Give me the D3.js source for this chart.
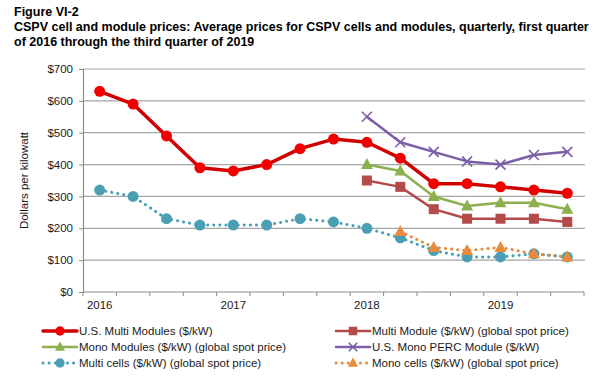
<!DOCTYPE html>
<html>
<head>
<meta charset="utf-8">
<script src="https://cdn.jsdelivr.net/npm/d3@7"></script>
<style>
  body { margin: 0; background: #fff; }
  svg { font-family: "Liberation Sans", Arial, sans-serif; }
</style>
</head>
<body>
<svg id="chart" width="600" height="377"></svg>
<script>
// quarters Q1 2016 .. Q3 2019
const quarters = ["2016Q1","2016Q2","2016Q3","2016Q4","2017Q1","2017Q2","2017Q3","2017Q4",
                  "2018Q1","2018Q2","2018Q3","2018Q4","2019Q1","2019Q2","2019Q3"];
const yearLabels = {"2016Q1": "2016", "2017Q1": "2017", "2018Q1": "2018", "2019Q1": "2019"};
const yTicks = [0, 100, 200, 300, 400, 500, 600, 700];

const usMulti   = [630, 590, 490, 390, 380, 400, 450, 480, 470, 420, 340, 340, 330, 320, 310];
const multiMod  = [null, null, null, null, null, null, null, null, 350, 330, 260, 230, 230, 230, 220];
const monoMod   = [null, null, null, null, null, null, null, null, 400, 380, 300, 270, 280, 280, 260];
const usPerc    = [null, null, null, null, null, null, null, null, 550, 470, 440, 410, 400, 430, 440];
const multiCell = [320, 300, 230, 210, 210, 210, 230, 220, 200, 170, 130, 110, 110, 120, 110];
const monoCell  = [null, null, null, null, null, null, null, null, null, 190, 140, 130, 140, 120, 110];

const series = [
  {name: "U.S. Multi Modules ($/kW)", values: usMulti, color: "#d00000", mcolor: "#f20000", width: 3.5, dash: null, marker: "circle"},
  {name: "Multi Module ($/kW) (global spot price)", values: multiMod, color: "#b54a4a", mcolor: "#b54a4a", width: 2.5, dash: null, marker: "square"},
  {name: "Mono Modules ($/kW) (global spot price)", values: monoMod, color: "#8db04e", mcolor: "#8db04e", width: 2.5, dash: null, marker: "triangle"},
  {name: "U.S. Mono PERC Module ($/kW)", values: usPerc, color: "#7b5ea7", mcolor: "#7b5ea7", width: 2.5, dash: null, marker: "x"},
  {name: "Multi cells ($/kW) (global spot price)", values: multiCell, color: "#4a9fb5", mcolor: "#4a9fb5", width: 3, dash: "0.1,6", marker: "circle"},
  {name: "Mono cells ($/kW) (global spot price)", values: monoCell, color: "#e98a3c", mcolor: "#e98a3c", width: 3, dash: "0.1,6", marker: "triangle"}
];

const svg = d3.select("#chart");
const plotLeft = 83, plotRight = 584, plotTop = 69, plotBottom = 292;

// title
const title = ["Figure VI-2",
  "CSPV cell and module prices: Average prices for CSPV cells and modules, quarterly, first quarter",
  "of 2016 through the third quarter of 2019"];
svg.selectAll("text.title").data(title).enter().append("text")
  .attr("class", "title")
  .attr("x", 14).attr("y", (d, i) => 16 + i * 15)
  .attr("font-size", 12.5).attr("font-weight", "bold").attr("fill", "#000")
  .text(d => d);

const x = d3.scaleBand().domain(quarters).range([plotLeft, plotRight]);
const y = d3.scaleLinear().domain([0, 700]).range([plotBottom, plotTop]);

// gridlines
svg.append("g").selectAll("line").data(yTicks.filter(d => d > 0)).enter().append("line")
  .attr("x1", plotLeft).attr("x2", plotRight + 1)
  .attr("y1", d => y(d)).attr("y2", d => y(d))
  .attr("stroke", "#a6a6a6").attr("stroke-width", 1.2);

// y axis
const yAxis = svg.append("g").attr("transform", `translate(${plotLeft},0)`)
  .call(d3.axisLeft(y).tickValues(yTicks).tickSize(4).tickPadding(6).tickFormat(d => "$" + d));
yAxis.select(".domain").attr("stroke", "#8c8c8c").attr("stroke-width", 1.2);
yAxis.selectAll(".tick line").attr("stroke", "#8c8c8c");
yAxis.selectAll("text").attr("font-size", 11.5).attr("fill", "#1a1a1a").attr("font-family", "Liberation Sans, Arial, sans-serif");

// x axis: ticks at band boundaries
const xg = svg.append("g");
xg.append("line").attr("x1", plotLeft).attr("x2", plotRight).attr("y1", plotBottom).attr("y2", plotBottom)
  .attr("stroke", "#8c8c8c").attr("stroke-width", 1.2);
xg.selectAll("line.tk").data(quarters.concat(["end"])).enter().append("line")
  .attr("class", "tk")
  .attr("x1", (d, i) => plotLeft + i * x.bandwidth()).attr("x2", (d, i) => plotLeft + i * x.bandwidth())
  .attr("y1", plotBottom).attr("y2", plotBottom + 4)
  .attr("stroke", "#8c8c8c");
xg.selectAll("text").data(Object.keys(yearLabels)).enter().append("text")
  .attr("x", d => x(d) + x.bandwidth() / 2).attr("y", plotBottom + 17)
  .attr("text-anchor", "middle").attr("font-size", 11.5).attr("fill", "#1a1a1a")
  .text(d => yearLabels[d]);

// y label
svg.append("text")
  .attr("transform", `translate(28,${(plotTop + plotBottom) / 2}) rotate(-90)`)
  .attr("text-anchor", "middle").attr("font-size", 11.5).attr("fill", "#1a1a1a")
  .text("Dollars per kilowatt");

function drawMarker(g, type, cx, cy, color, scale) {
  const s = scale || 1;
  if (type === "circle") {
    g.append("circle").attr("cx", cx).attr("cy", cy).attr("r", 5.5 * s).attr("fill", color);
  } else if (type === "square") {
    g.append("rect").attr("x", cx - 5 * s).attr("y", cy - 5 * s).attr("width", 10 * s).attr("height", 10 * s).attr("fill", color);
  } else if (type === "triangle") {
    g.append("path").attr("d", `M${cx},${cy - 6.5 * s}L${cx + 6 * s},${cy + 4.5 * s}L${cx - 6 * s},${cy + 4.5 * s}Z`).attr("fill", color);
  } else if (type === "x") {
    g.append("path").attr("d", `M${cx - 5 * s},${cy - 5 * s}L${cx + 5 * s},${cy + 5 * s}M${cx + 5 * s},${cy - 5 * s}L${cx - 5 * s},${cy + 5 * s}`)
      .attr("stroke", color).attr("stroke-width", 1.6).attr("fill", "none");
  }
}

const line = d3.line()
  .defined(d => d.v != null)
  .x(d => x(d.q) + x.bandwidth() / 2)
  .y(d => y(d.v));

// draw order: cells first, then modules
const order = [4, 5, 1, 2, 3, 0];
order.forEach(si => {
  const s = series[si];
  const pts = quarters.map((q, i) => ({q: q, v: s.values[i]}));
  const g = svg.append("g");
  g.append("path").datum(pts)
    .attr("d", line).attr("fill", "none")
    .attr("stroke", s.color).attr("stroke-width", s.width)
    .attr("stroke-linecap", "round").attr("stroke-linejoin", "round")
    .attr("stroke-dasharray", s.dash);
  pts.filter(d => d.v != null).forEach(d => {
    drawMarker(g, s.marker, x(d.q) + x.bandwidth() / 2, y(d.v), s.mcolor);
  });
});

// legend
const legendPos = [[43, 331], [336, 331], [43, 347], [336, 347], [43, 363], [336, 363]];
series.forEach((s, i) => {
  const [lx, ly] = legendPos[i];
  const g = svg.append("g");
  g.append("line").attr("x1", lx).attr("x2", lx + 34).attr("y1", ly).attr("y2", ly)
    .attr("stroke", s.color).attr("stroke-width", s.width)
    .attr("stroke-linecap", "round")
    .attr("stroke-dasharray", s.dash);
  drawMarker(g, s.marker, lx + 17, ly, s.mcolor, 0.85);
  g.append("text").attr("x", lx + 36).attr("y", ly + 4)
    .attr("font-size", 11.5).attr("fill", "#1a1a1a").text(s.name);
});
</script>
</body>
</html>
